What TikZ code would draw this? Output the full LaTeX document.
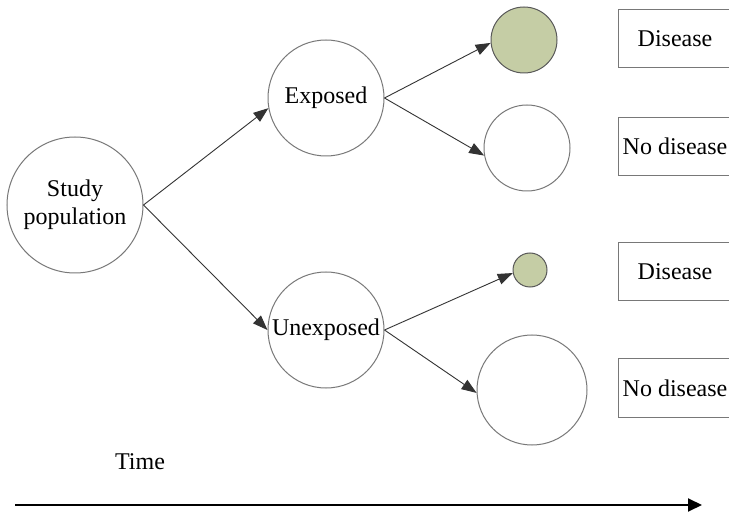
\documentclass[tikz,border=0pt]{standalone}
\usepackage{fontspec}
\setmainfont{Liberation Serif}
\usetikzlibrary{arrows.meta}
\definecolor{dgreen}{RGB}{197,205,165}
\definecolor{cline}{RGB}{120,120,120}
\begin{document}
\begin{tikzpicture}[x=1pt,y=-1pt,
  font=\fontsize{24}{28}\selectfont,
  circ/.style={circle,draw=cline,line width=1pt,inner sep=0pt,fill=white},
  gcirc/.style={circ,draw=black!65,fill=dgreen},
  outbox/.style={rectangle,draw=cline,line width=1pt,inner sep=0pt,minimum width=114pt,minimum height=58pt},
  arr/.style={draw=black!80,line width=0.9pt,-{Triangle[length=15pt,width=11pt]}},
  tarr/.style={draw=black,line width=2pt,-{Triangle[length=14pt,width=13pt]}}]
\useasboundingbox (0,0) rectangle (729,513);
\clip (0,0) rectangle (729,513);
\fill[white] (0,0) rectangle (729,513);

\node[circ,minimum size=136pt,align=center] (study) at (75,205) {Study\\population};
\node[circ,minimum size=116pt] (exp) at (326,98) {Exposed};
\node[circ,minimum size=116pt] (unexp) at (326,330) {Unexposed};

\node[gcirc,minimum size=66pt] (d1) at (524,40) {};
\node[circ,minimum size=86pt] (n1) at (527,148) {};
\node[gcirc,minimum size=34pt] (d2) at (530,270) {};
\node[circ,minimum size=110pt] (n2) at (532,390) {};

\node[outbox] (bd1) at (675,39) {Disease};
\node[outbox] (bn1) at (675,146.5) {No disease};
\node[outbox] (bd2) at (675,272) {Disease};
\node[outbox] (bn2) at (675,388) {No disease};

\draw[arr] (study.east) -- (exp.190);
\draw[arr] (study.east) -- (unexp.180);
\draw[arr] (exp.east) -- (d1.185);
\draw[arr] (exp.east) -- (n1.190);
\draw[arr] (unexp.east) -- (d2.190);
\draw[arr] (unexp.east) -- (n2.183);

\node (time) at (140,462) {Time};
\coordinate (t0) at (15,505);
\coordinate (t1) at (702,505);
\draw[tarr] (t0) -- (t1);
\end{tikzpicture}
\end{document}
